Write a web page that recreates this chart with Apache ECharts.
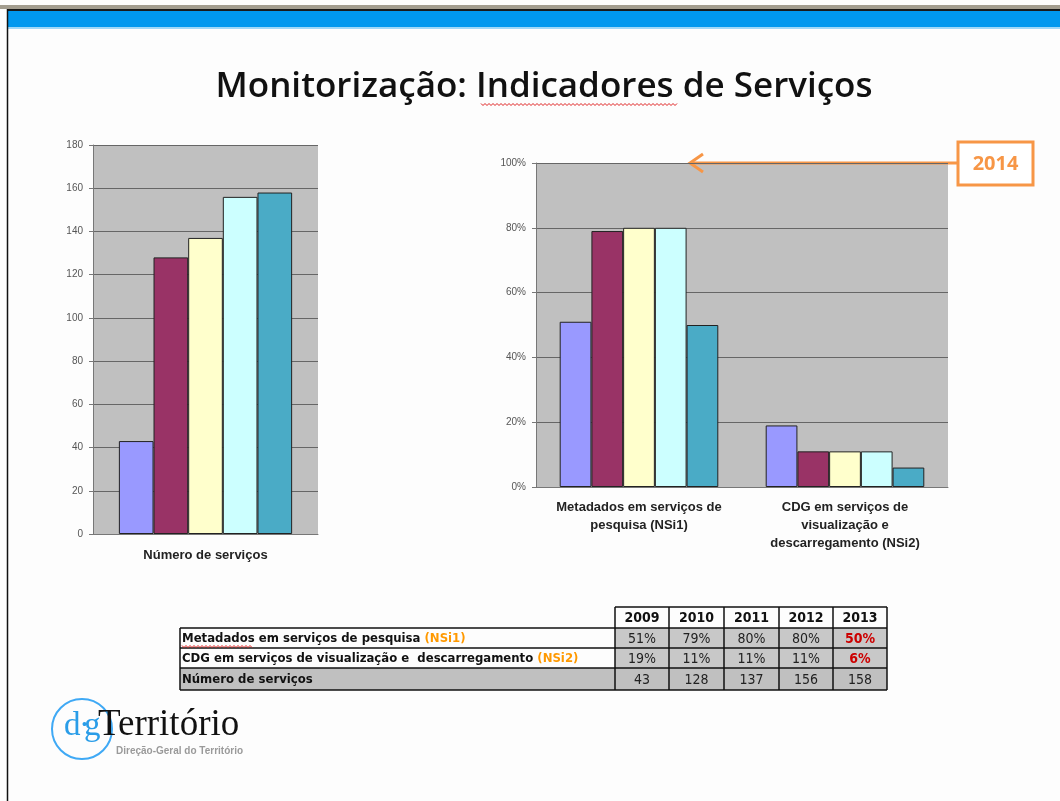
<!DOCTYPE html>
<html>
<head>
<meta charset="utf-8">
<title>Monitorização: Indicadores de Serviços</title>
<script src="https://cdn.jsdelivr.net/npm/echarts@6/dist/echarts.min.js"></script>
<style>
  html, body { margin: 0; padding: 0; background: #fdfdfd; }
  #main { width: 1060px; height: 801px; }
</style>
</head>
<body>
<div id="main"></div>
<script>
// dados
var years = ['2009', '2010', '2011', '2012', '2013'];
var nsi1 = [51, 79, 80, 80, 50];          // Metadados em serviços de pesquisa (%)
var nsi2 = [19, 11, 11, 11, 6];           // CDG em serviços de visualização e descarregamento (%)
var numServicos = [43, 128, 137, 156, 158];
var leftCategories = ['Número de serviços'];
var rightCategories = ['Metadados em serviços de\npesquisa (NSi1)', 'CDG em serviços de\nvisualização e\ndescarregamento (NSi2)'];
var tableLabels = [
  ['Metadados em serviços de pesquisa ', '(NSi1)'],
  ['CDG em serviços de visualização e  descarregamento ', '(NSi2)'],
  ['Número de serviços', '']
];
var leftTicks = [0, 20, 40, 60, 80, 100, 120, 140, 160, 180];
var rightTicks = [0, 20, 40, 60, 80, 100];
var annotation = '2014';

var colors = ['#9999ff', '#993366', '#ffffcc', '#ccffff', '#4aabc6'];
var orange = '#f79646';
var narrow = "'Liberation Sans Narrow', 'DejaVu Sans Condensed', 'Liberation Sans', sans-serif";

var myChart = echarts.init(document.getElementById('main'));

// series: uma por ano em cada gráfico
var series = [];
years.forEach(function (y, i) {
  series.push({
    name: y, type: 'bar', xAxisIndex: 0, yAxisIndex: 0,
    barGap: '0%', barCategoryGap: '23%',
    itemStyle: { color: colors[i], borderColor: '#222', borderWidth: 1 },
    data: [numServicos[i]]
  });
  series.push({
    name: y, type: 'bar', xAxisIndex: 1, yAxisIndex: 1,
    barGap: '0%', barCategoryGap: '23%',
    itemStyle: { color: colors[i], borderColor: '#222', borderWidth: 1 },
    data: [nsi1[i], nsi2[i]]
  });
});

// sublinhado ondulado (corretor ortográfico)
function squiggle(x1, x2, y) {
  var pts = [];
  for (var x = x1, k = 0; x <= x2; x += 2, k++) {
    pts.push([x, y + (k % 2 ? 1.5 : -0.5)]);
  }
  return { type: 'polyline', shape: { points: pts }, style: { stroke: '#e02020', lineWidth: 1, fill: null } };
}

// tabela
var graphics = [];
var colX = [615, 669, 724, 779, 833, 887];
var tableLeft = 180;
var rowY = [607, 628, 648, 668, 690];
var tableRows = [
  nsi1.map(function (v) { return v + '%'; }),
  nsi2.map(function (v) { return v + '%'; }),
  numServicos.map(function (v) { return String(v); })
];
// fundos
graphics.push({ type: 'rect', shape: { x: colX[0], y: rowY[1], width: colX[5] - colX[0], height: rowY[3] - rowY[1] }, style: { fill: '#c8c8c8' } });
graphics.push({ type: 'rect', shape: { x: tableLeft, y: rowY[3], width: colX[5] - tableLeft, height: rowY[4] - rowY[3] }, style: { fill: '#c0c0c0' } });
// linhas
var lineStyle = { stroke: '#111', lineWidth: 1.5 };
graphics.push({ type: 'line', shape: { x1: colX[0], y1: rowY[0], x2: colX[5], y2: rowY[0] }, style: lineStyle });
for (var r = 1; r < rowY.length; r++) {
  graphics.push({ type: 'line', shape: { x1: tableLeft, y1: rowY[r], x2: colX[5], y2: rowY[r] }, style: lineStyle });
}
graphics.push({ type: 'line', shape: { x1: tableLeft, y1: rowY[1], x2: tableLeft, y2: rowY[4] }, style: lineStyle });
colX.forEach(function (x) {
  graphics.push({ type: 'line', shape: { x1: x, y1: rowY[0], x2: x, y2: rowY[4] }, style: lineStyle });
});
// textos
years.forEach(function (y, c) {
  graphics.push({ type: 'text', style: { text: y, x: (colX[c] + colX[c + 1]) / 2, y: (rowY[0] + rowY[1]) / 2 + 1, align: 'center', verticalAlign: 'middle', font: 'bold 14px ' + narrow, fill: '#111' } });
});
tableLabels.forEach(function (lab, r) {
  graphics.push({
    type: 'text',
    style: {
      text: '{a|' + lab[0] + '}' + (lab[1] ? '{b|' + lab[1] + '}' : ''),
      x: tableLeft + 2, y: (rowY[r + 1] + rowY[r + 2]) / 2 + 1, verticalAlign: 'middle',
      rich: {
        a: { font: 'bold 13px ' + narrow, fill: '#111' },
        b: { font: 'bold 13px ' + narrow, fill: '#ff9900' }
      }
    }
  });
  tableRows[r].forEach(function (v, c) {
    var red = (c === 4 && r < 2);
    graphics.push({ type: 'text', style: { text: v, x: (colX[c] + colX[c + 1]) / 2, y: (rowY[r + 1] + rowY[r + 2]) / 2 + 1, align: 'center', verticalAlign: 'middle', font: (red ? 'bold ' : '') + '14px ' + narrow, fill: red ? '#cc0000' : '#222' } });
  });
});
graphics.push(squiggle(182, 252, 646));

// moldura do diapositivo
graphics.push({ type: 'rect', shape: { x: 0, y: 5, width: 1060, height: 4 }, style: { fill: '#a39d8f' } });
graphics.push({ type: 'rect', shape: { x: 7, y: 9, width: 1053, height: 2 }, style: { fill: '#1a1a1a' } });
graphics.push({ type: 'rect', shape: { x: 7, y: 11, width: 1053, height: 16 }, style: { fill: '#0098ef' } });
graphics.push({ type: 'rect', shape: { x: 7, y: 27, width: 1053, height: 2 }, style: { fill: '#9fd8f8' } });
graphics.push({ type: 'line', shape: { x1: 7.5, y1: 9, x2: 7.5, y2: 801 }, style: { stroke: '#111', lineWidth: 1.5 } });

// título
graphics.push({ type: 'text', style: { text: 'Monitorização: Indicadores de Serviços', x: 544, y: 87, align: 'center', verticalAlign: 'middle', font: '600 35px "Open Sans", sans-serif', fill: '#111' } });
graphics.push(squiggle(481, 678, 104));

// anotação 2014
graphics.push({ type: 'line', shape: { x1: 958, y1: 163, x2: 690, y2: 163 }, style: { stroke: orange, lineWidth: 3 } });
graphics.push({ type: 'polyline', shape: { points: [[703, 154], [690, 163], [703, 172]] }, style: { stroke: orange, lineWidth: 3, fill: null } });
graphics.push({ type: 'rect', shape: { x: 958, y: 142, width: 75, height: 43 }, style: { stroke: orange, lineWidth: 3, fill: '#fff' } });
graphics.push({ type: 'text', style: { text: annotation, x: 995.5, y: 164, align: 'center', verticalAlign: 'middle', font: 'bold 20px "Open Sans", sans-serif', fill: orange } });

// logótipo
graphics.push({ type: 'circle', shape: { cx: 82, cy: 729, r: 30 }, style: { stroke: '#3fa9f5', lineWidth: 2, fill: null } });
graphics.push({ type: 'text', style: { text: 'd', x: 64, y: 743, verticalAlign: 'bottom', font: '33px "Liberation Serif", serif', fill: '#2a9de8' } });
graphics.push({ type: 'text', style: { text: '·', x: 79, y: 743, verticalAlign: 'bottom', font: '33px "Liberation Serif", serif', fill: '#2a9de8' } });
graphics.push({ type: 'text', style: { text: 'g', x: 84, y: 743, verticalAlign: 'bottom', font: '33px "Liberation Serif", serif', fill: '#2a9de8' } });
graphics.push({ type: 'text', style: { text: 'Território', x: 98, y: 744, verticalAlign: 'bottom', font: '37px "Liberation Serif", serif', fill: '#111' } });
graphics.push({ type: 'text', style: { text: 'Direção-Geral do Território', x: 116, y: 751, verticalAlign: 'middle', font: 'bold 10px "Liberation Sans", sans-serif', fill: '#9a9a9a' } });

var axisLabelStyle = { color: '#555', fontSize: 10, fontFamily: 'Liberation Sans, Arial, sans-serif' };
var catLabelStyle = { color: '#222', fontSize: 13, fontWeight: 'bold', fontFamily: 'Liberation Sans, Arial, sans-serif', lineHeight: 18 };

myChart.setOption({
  backgroundColor: '#fdfdfd',
  animation: false,
  grid: [
    { left: 93, top: 145, width: 225, height: 389, show: true, backgroundColor: '#c0c0c0', borderWidth: 0 },
    { left: 536, top: 163, width: 412, height: 324, show: true, backgroundColor: '#c0c0c0', borderWidth: 0 }
  ],
  xAxis: [
    {
      type: 'category', gridIndex: 0, data: leftCategories,
      axisLine: { lineStyle: { color: '#777' } },
      axisTick: { length: 4, lineStyle: { color: '#777' } },
      axisLabel: Object.assign({ margin: 12 }, catLabelStyle)
    },
    {
      type: 'category', gridIndex: 1, data: rightCategories,
      axisLine: { lineStyle: { color: '#777' } },
      axisTick: { length: 4, lineStyle: { color: '#777' } },
      axisLabel: Object.assign({ margin: 11, interval: 0 }, catLabelStyle)
    }
  ],
  yAxis: [
    {
      type: 'value', gridIndex: 0, min: leftTicks[0], max: leftTicks[leftTicks.length - 1], interval: 20,
      axisLine: { show: true, lineStyle: { color: '#777' } },
      axisTick: { show: true, length: 4, lineStyle: { color: '#777' } },
      axisLabel: Object.assign({ margin: 10 }, axisLabelStyle),
      splitLine: { lineStyle: { color: '#666', width: 1 } }
    },
    {
      type: 'value', gridIndex: 1, min: rightTicks[0], max: rightTicks[rightTicks.length - 1], interval: 20,
      axisLine: { show: true, lineStyle: { color: '#777' } },
      axisTick: { show: true, length: 4, lineStyle: { color: '#777' } },
      axisLabel: Object.assign({ margin: 10, formatter: '{value}%' }, axisLabelStyle),
      splitLine: { lineStyle: { color: '#666', width: 1 } }
    }
  ],
  series: series,
  graphic: { elements: graphics }
});
</script>
</body>
</html>
